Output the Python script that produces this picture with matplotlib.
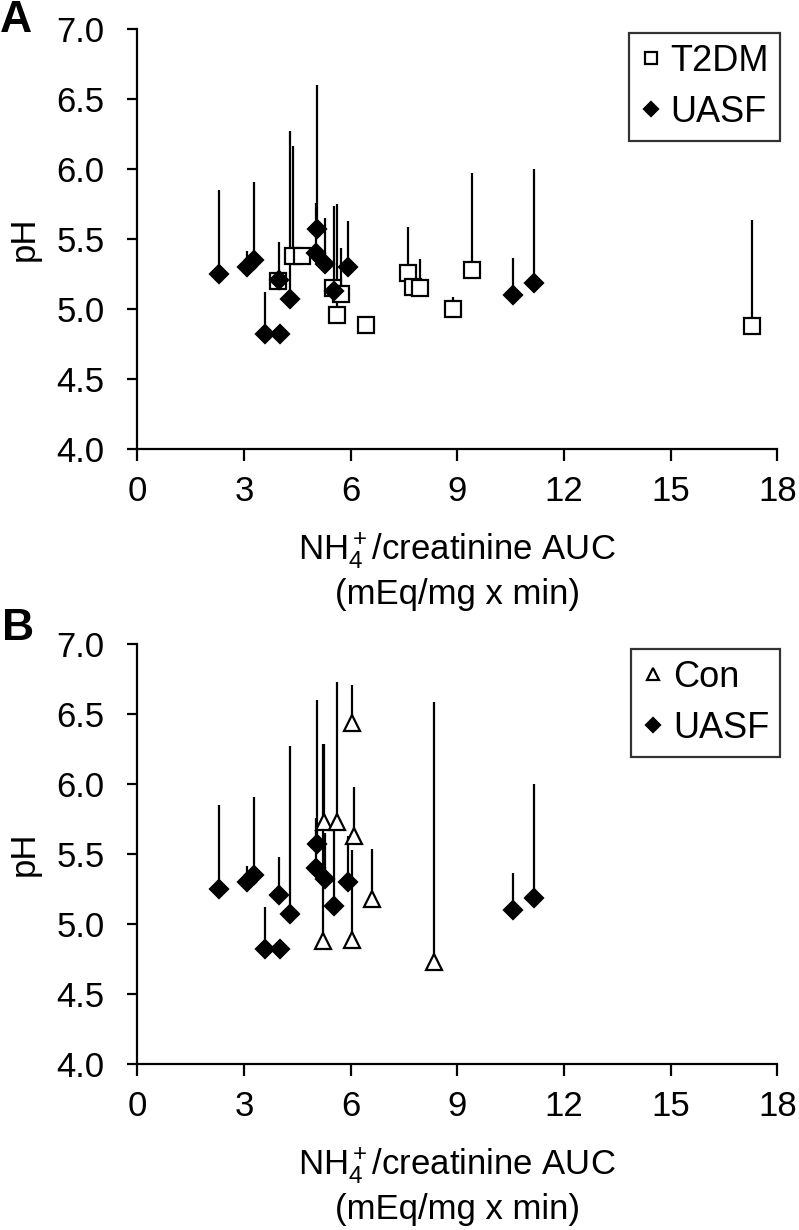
import matplotlib
matplotlib.use("Agg")
import matplotlib.pyplot as plt
import numpy as np
from matplotlib.ticker import FormatStrFormatter

plt.rcParams['font.family'] = ['Liberation Sans', 'DejaVu Sans']
plt.rcParams['mathtext.fontset'] = 'custom'
plt.rcParams['mathtext.rm'] = 'Liberation Sans'
plt.rcParams['mathtext.it'] = 'Liberation Sans'

# ---- data ----
uasf_x = [2.31, 3.08, 3.28, 3.59, 4.01, 3.98, 4.30, 5.06, 5.02, 5.28, 5.53, 5.93, 10.57, 11.16]
uasf_y = [5.25, 5.30, 5.35, 4.82, 4.82, 5.21, 5.07, 5.57, 5.40, 5.32, 5.13, 5.30, 5.10, 5.19]
uasf_err = [0.60, 0.12, 0.56, 0.30, 0.00, 0.27, 1.20, 1.03, 0.36, 0.33, 0.61, 0.33, 0.27, 0.81]

t2dm_x = [3.97, 4.37, 4.62, 5.51, 5.72, 5.61, 6.42, 7.62, 7.74, 7.95, 8.87, 9.40, 17.29]
t2dm_y = [5.20, 5.38, 5.38, 5.15, 5.11, 4.96, 4.89, 5.26, 5.16, 5.15, 5.00, 5.28, 4.88]
t2dm_err = [0.00, 0.79, 0.00, 0.00, 0.33, 0.79, 0.00, 0.33, 0.00, 0.21, 0.09, 0.69, 0.76]

con_x = [6.03, 5.25, 5.61, 6.10, 6.59, 5.23, 6.05, 8.35]
con_y = [6.44, 5.73, 5.73, 5.63, 5.18, 4.88, 4.89, 4.73]
con_err = [0.27, 0.56, 1.00, 0.35, 0.36, 1.41, 0.64, 1.86]

x_ticks = [0, 3, 6, 9, 12, 15, 18]
y_ticks = [4.0, 4.5, 5.0, 5.5, 6.0, 6.5, 7.0]
xlabel = 'NH$_4^+$/creatinine AUC\n(mEq/mg x min)'

W, H = 799, 1230
fig = plt.figure(figsize=(W / 100, H / 100), dpi=100)

def px_rect(left, top, right, bottom):
    return [left / W, 1 - bottom / H, (right - left) / W, (bottom - top) / H]

axA = fig.add_axes(px_rect(137.3, 29.3, 777.3, 449.3))
axB = fig.add_axes(px_rect(137.3, 644.3, 777.3, 1064.3))

FS = 25

def draw_series(ax, x, y, err, marker, ms, face, label):
    x = np.asarray(x); y = np.asarray(y); err = np.asarray(err)
    ax.errorbar(x, y, yerr=[np.zeros_like(err), err], fmt='none',
                ecolor='black', elinewidth=1.6, capsize=0, zorder=2)
    ax.plot(x, y, linestyle='none', marker=marker, ms=ms, mfc=face,
            mec='black', mew=1.6, zorder=3, label=label)

def style(ax, first_x, first_y, first_err, first_marker, first_ms, first_label, legend_top):
    draw_series(ax, first_x, first_y, first_err, first_marker, first_ms, 'white', first_label)
    draw_series(ax, uasf_x, uasf_y, uasf_err, 'D', 9.5, 'black', 'UASF')
    ax.set_xlim(0, 18)
    ax.set_ylim(4, 7)
    ax.set_xticks(x_ticks)
    ax.set_yticks(y_ticks)
    ax.yaxis.set_major_formatter(FormatStrFormatter('%.1f'))
    for s in ['top', 'right']:
        ax.spines[s].set_visible(False)
    for s in ['left', 'bottom']:
        ax.spines[s].set_linewidth(1.6)
        ax.spines[s].set_color('black')
    ax.tick_params(axis='y', direction='out', length=7.5, width=1.6, pad=16, labelsize=FS)
    ax.tick_params(axis='x', direction='out', length=8.5, width=1.6, pad=10, labelsize=FS)
    ax.set_xlabel(xlabel, fontsize=FS, linespacing=1.25, labelpad=16)
    leg = ax.legend(loc='upper right', bbox_to_anchor=(780 / W, 1 - legend_top / H),
                    bbox_transform=fig.transFigure, fontsize=FS + 1, frameon=True,
                    fancybox=False, edgecolor='black', borderpad=0.3, labelspacing=0.45,
                    handlelength=0.6, handletextpad=0.25, borderaxespad=0, markerscale=0.8)
    leg.get_frame().set_linewidth(1.6)

style(axA, t2dm_x, t2dm_y, t2dm_err, 's', 11, 'T2DM', 33)
style(axB, con_x, con_y, con_err, '^', 11, 'Con', 649)

fig.text(24 / W, 1 - 239 / H, 'pH', rotation=90, ha='center', va='center', fontsize=FS)
fig.text(24 / W, 1 - 854 / H, 'pH', rotation=90, ha='center', va='center', fontsize=FS)
fig.text(16 / W, 1 - 21 / H, 'A', ha='center', va='center', fontsize=32, fontweight='bold')
fig.text(18 / W, 1 - 628 / H, 'B', ha='center', va='center', fontsize=32, fontweight='bold')

fig.savefig('out.png', dpi=100)
